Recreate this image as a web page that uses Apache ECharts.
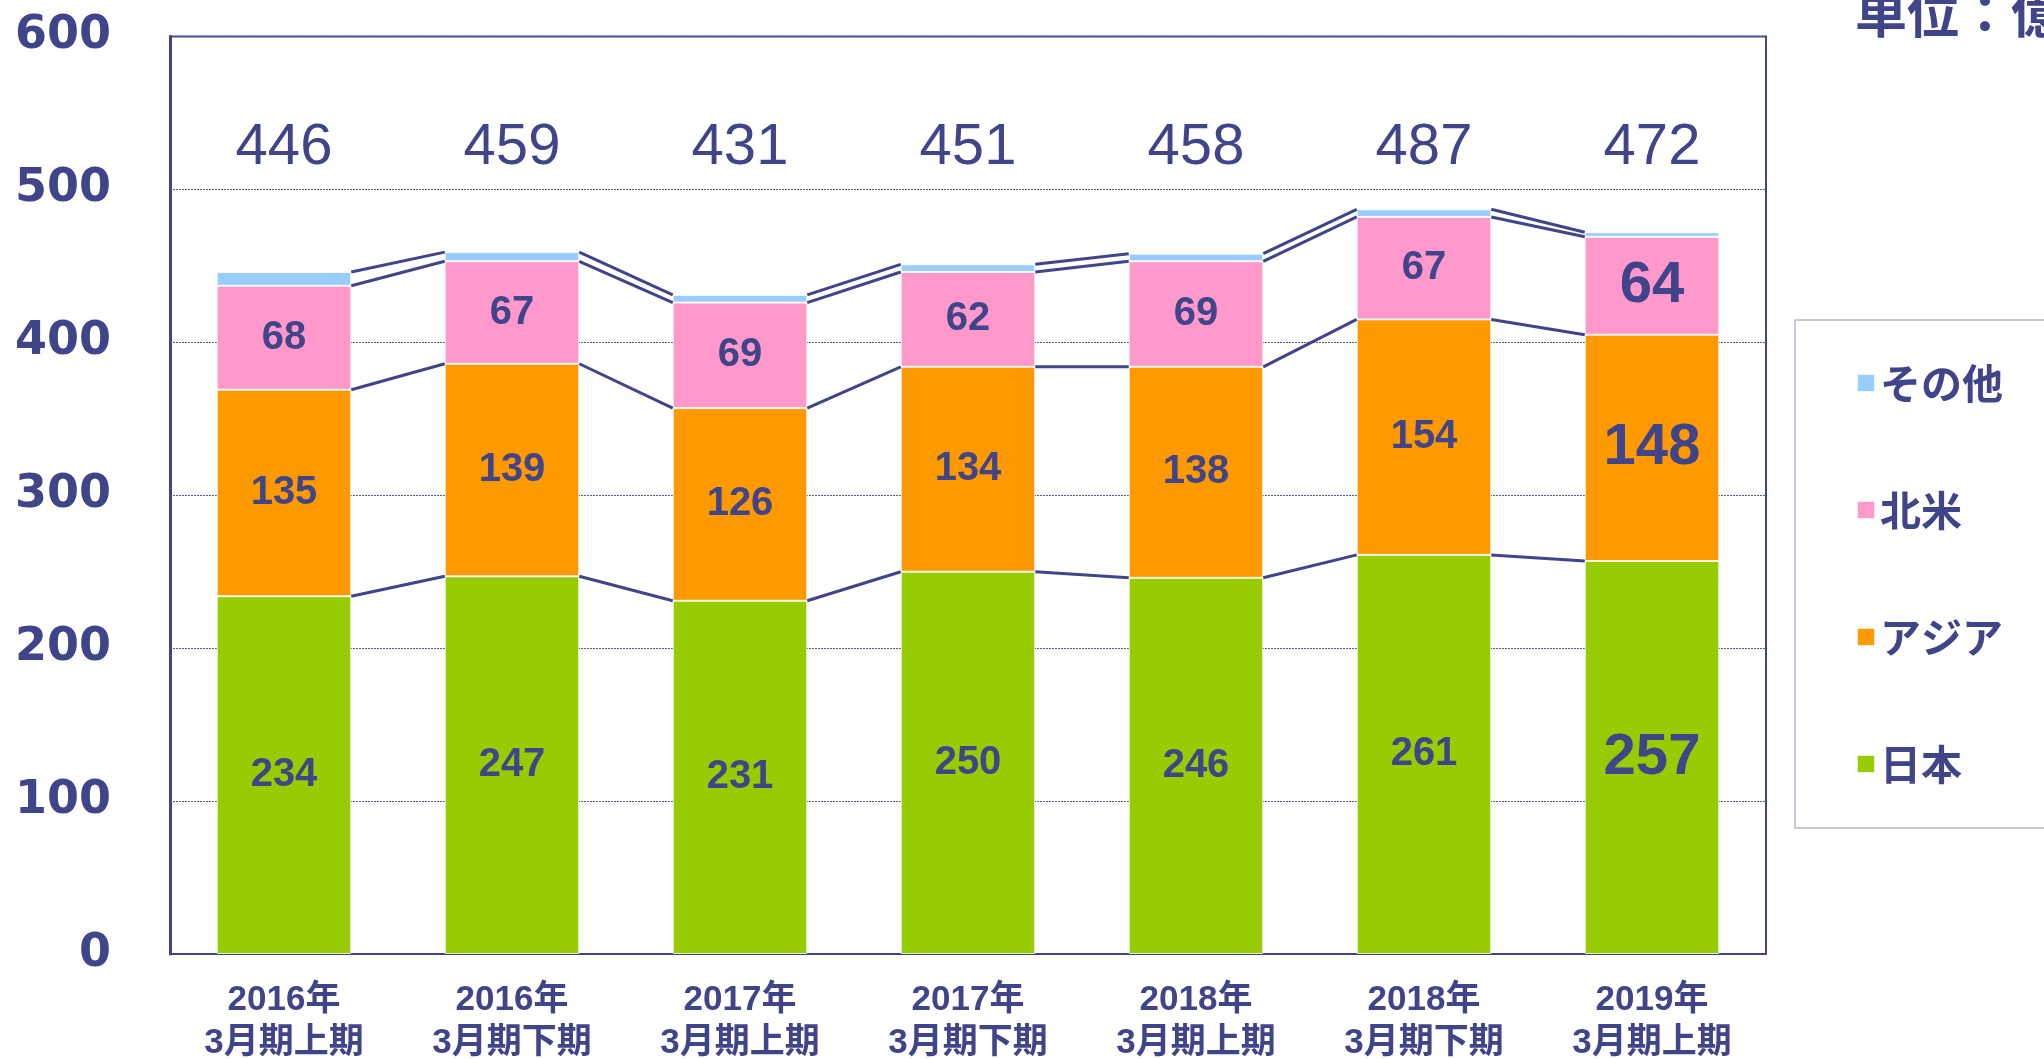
<!DOCTYPE html>
<html><head><meta charset="utf-8">
<script src="https://cdn.jsdelivr.net/npm/echarts@6/dist/echarts.min.js"></script>
<style>html,body{margin:0;padding:0;background:#fff}#c{width:2044px;height:1059px}</style>
</head><body><div id="c"></div>
<script>
const categories = ['2016年\n3月期上期','2016年\n3月期下期','2017年\n3月期上期','2017年\n3月期下期','2018年\n3月期上期','2018年\n3月期下期','2019年\n3月期上期'];
const japan        = [234, 247, 231, 250, 246, 261, 257];
const asia         = [135, 139, 126, 134, 138, 154, 148];
const northAmerica = [68, 67, 69, 62, 69, 67, 64];
const others       = [9, 6, 5, 5, 5, 5, 3];
const totals       = [446, 459, 431, 451, 458, 487, 472];
const yMin = 0, yMax = 600, yStep = 100;
const unitText = '単位：億円';

const NAVY = '#404489';
const BAR_RATIO = 0.59;
const TOTAL_LABEL_LEVEL = 527;
const CJK = '"Noto Sans CJK JP"';

const cum = categories.map((_, i) => {
  const a = japan[i], b = a + asia[i], c = b + northAmerica[i], d = c + others[i];
  return [a, b, c, d];
});
const linkData = [];
for (let i = 0; i < categories.length - 1; i++) linkData.push([i, ...cum[i], ...cum[i + 1]]);
const totalData = totals.map((t, i) => [i, t]);

const lastIdx = categories.length - 1;
function segData(arr) {
  return arr.map((v, i) => i === lastIdx ? { value: v, label: { fontSize: 58 } } : v);
}
const segLabel = {
  show: true, position: 'inside', color: NAVY, fontWeight: 'bold',
  fontFamily: '"Liberation Sans"', fontSize: 40
};
function barSeries(name, data, color, label) {
  return {
    name, type: 'bar', stack: 'total', barWidth: (BAR_RATIO * 100) + '%',
    data: label ? segData(data) : data,
    itemStyle: { color, borderColor: 'rgba(255,255,255,0.8)', borderWidth: 1 },
    label: label ? segLabel : { show: false },
    emphasis: { disabled: true }, z: 2
  };
}

const chart = echarts.init(document.getElementById('c'), null, { renderer: 'canvas' });
chart.setOption({
  animation: false,
  backgroundColor: '#fff',
  grid: { left: 170, right: 278, top: 36.5, bottom: 105, show: true, borderColor: NAVY, borderWidth: 2,
    containLabel: false, outerBoundsMode: 'none' },
  legend: {
    orient: 'vertical', left: 1795, top: 320,
    data: ['その他', '北米', 'アジア', '日本'],
    itemWidth: 18, itemHeight: 18, itemGap: 85, icon: 'rect',
    padding: [42, 80, 43, 61],
    borderColor: '#B4B6D4', borderWidth: 1.5,
    selectedMode: false,
    textStyle: { color: NAVY, fontSize: 41, fontWeight: 'bold', fontFamily: CJK, lineHeight: 42 }
  },
  xAxis: {
    type: 'category', data: categories,
    axisLine: { lineStyle: { color: NAVY, width: 2 } },
    axisTick: { show: false },
    axisLabel: { color: NAVY, fontSize: 35, fontWeight: 'bold', fontFamily: '"Liberation Sans", ' + CJK, lineHeight: 43, margin: 25, interval: 0 }
  },
  yAxis: {
    type: 'value', min: yMin, max: yMax, interval: yStep,
    axisLine: { show: true, lineStyle: { color: NAVY, width: 3 } },
    axisTick: { show: false },
    splitLine: { show: true, lineStyle: { color: '#565A98', width: 1, type: [2, 1] } },
    axisLabel: { color: NAVY, fontSize: 46, fontWeight: 'bold', fontFamily: '"DejaVu Sans"', margin: 59 }
  },
  series: [
    barSeries('日本', japan, '#99CC00', true),
    barSeries('アジア', asia, '#FF9900', true),
    barSeries('北米', northAmerica, '#FF99CC', true),
    barSeries('その他', others, '#99CCFF', false),
    {
      name: 'links', type: 'custom', data: linkData, z: 5,
      encode: { x: 0, y: 1 }, silent: true,
      renderItem(params, api) {
        const i = api.value(0);
        const hw = api.size([1, 0])[0] * BAR_RATIO / 2;
        const children = [];
        for (let k = 0; k < 4; k++) {
          const p1 = api.coord([i, api.value(1 + k)]);
          const p2 = api.coord([i + 1, api.value(5 + k)]);
          children.push({ type: 'line', shape: { x1: p1[0] + hw, y1: p1[1], x2: p2[0] - hw, y2: p2[1] },
            style: { stroke: NAVY, lineWidth: 3 } });
        }
        return { type: 'group', children };
      }
    },
    {
      name: 'totals', type: 'custom', data: totalData, z: 5,
      encode: { x: 0, y: 1 }, silent: true,
      renderItem(params, api) {
        const p = api.coord([api.value(0), TOTAL_LABEL_LEVEL]);
        return { type: 'text', x: p[0], y: p[1],
          style: { text: String(api.value(1)), fill: NAVY, fontSize: 58, fontFamily: '"Liberation Sans"',
            align: 'center', verticalAlign: 'middle' } };
      }
    }
  ],
  graphic: [{
    type: 'text', left: 1855, top: -13,
    style: { text: unitText, fill: NAVY, fontSize: 52, fontWeight: 'bold', fontFamily: CJK }
  }]
});
</script></body></html>
